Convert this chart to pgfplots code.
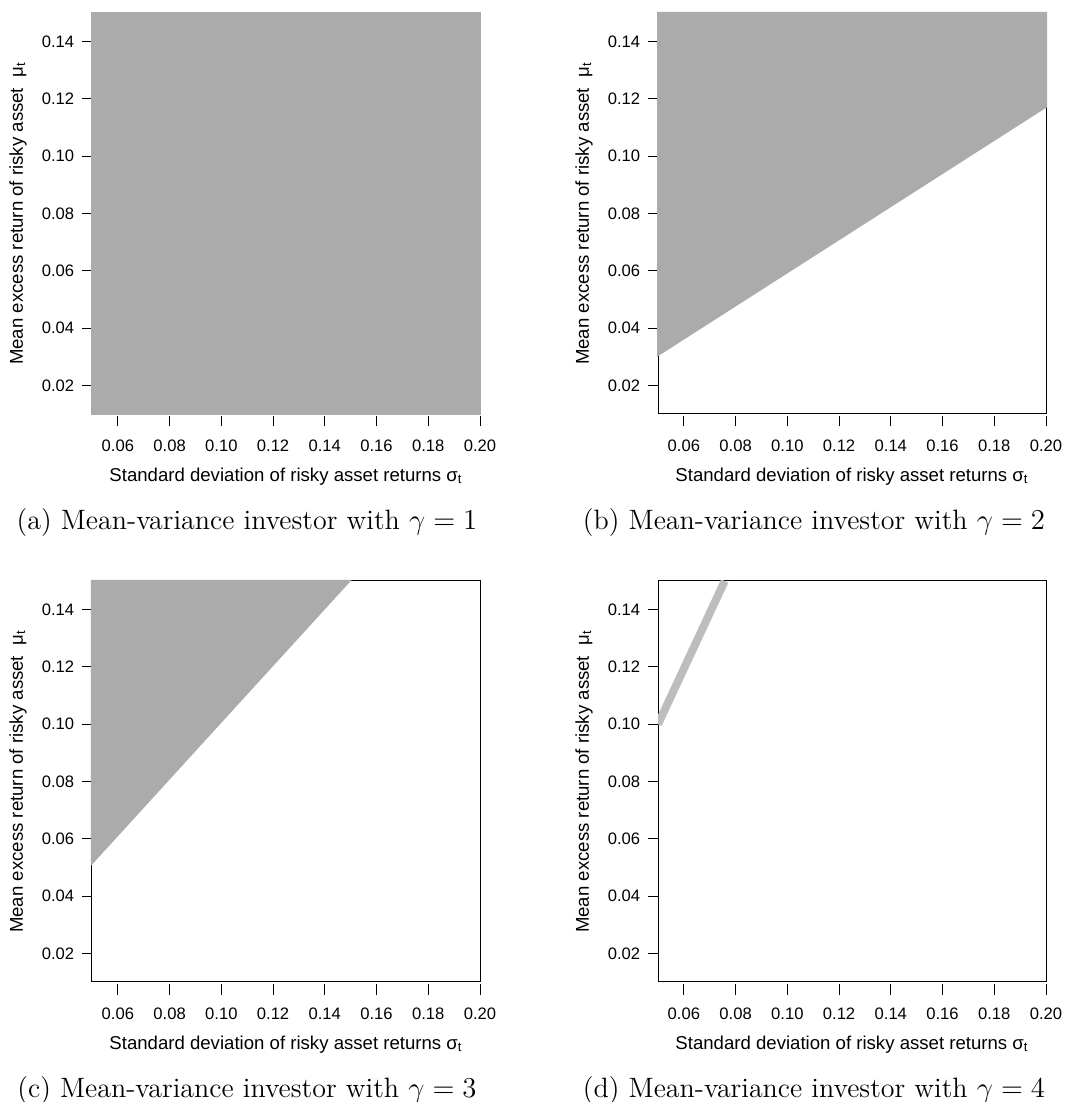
\documentclass[border=0pt]{standalone}
\usepackage{fontspec}
\setsansfont{Liberation Sans}
\usepackage{pgfplots}
\pgfplotsset{compat=1.18}
\definecolor{cgray}{HTML}{ABABAB}
\definecolor{bgray}{HTML}{BDBDBD}
\pgfplotsset{panel/.style={
  scale only axis, width=194pt, height=200.5pt,
  xmin=0.05, xmax=0.20, ymin=0.01, ymax=0.15,
  xtick={0.06,0.08,0.10,0.12,0.14,0.16,0.18,0.20},
  ytick={0.02,0.04,0.06,0.08,0.10,0.12,0.14},
  scaled ticks=false,
  tick pos=left,
  tick align=outside, major tick length=5pt,
  axis line style={line width=0.5pt},
  tick style={black, line width=0.5pt},
  xtick style={yshift=-1.25pt},
  xticklabel style={yshift=-4.6pt},
  yticklabel style={xshift=-0.4pt},
  ticklabel style={font=\sffamily\fontsize{8.3}{9.5}\selectfont},
  /pgf/number format/.cd, fixed, fixed zerofill, precision=2, assume math mode=true, /pgfplots/.cd,
  xlabel={Standard deviation of risky asset returns σ\textsubscript{t}},
  ylabel={Mean excess return of risky asset~~μ\textsubscript{t}},
  label style={font=\sffamily\fontsize{9.3}{11}\selectfont},
  xlabel style={at={(axis description cs:0.5,0)}, anchor=north, yshift=-23.6pt},
  ylabel style={at={(axis description cs:-0.1907,0.5)}, anchor=center},
  anchor=south west,
  no markers,
}}
\begin{document}
\begin{tikzpicture}
\useasboundingbox (0,0) rectangle (540pt,551pt);
% (a)
\begin{axis}[panel, at={(46pt,344pt)}, clip=false]
\addplot[fill=cgray, draw=cgray, line width=1pt] coordinates {(0.05,0.01) (0.20,0.01) (0.20,0.15) (0.05,0.15)} -- cycle;
\end{axis}
% (b)
\begin{axis}[panel, at={(329pt,344pt)}, clip=false]
\addplot[fill=cgray, draw=cgray, line width=1pt] coordinates {(0.05,0.15) (0.05,0.0306) (0.20,0.1173) (0.20,0.15)} -- cycle;
\end{axis}
% (c)
\begin{axis}[panel, at={(46pt,60pt)}, clip=false]
\addplot[fill=cgray, draw=cgray, line width=1pt] coordinates {(0.05,0.15) (0.05,0.0515) (0.1495,0.15)} -- cycle;
\end{axis}
% (d)
\begin{axis}[panel, at={(329pt,60pt)}]
\addplot[bgray, line width=4pt] coordinates {(0.05,0.100) (0.0758,0.15)};
\end{axis}
\begin{scope}[every node/.style={anchor=base, font=\fontsize{14}{16}\selectfont}]
\node at (123.5pt,286pt) {(a) Mean-variance investor with $\gamma = 1$};
\node at (407pt,286pt) {(b) Mean-variance investor with $\gamma = 2$};
\node at (123.5pt,2pt) {(c) Mean-variance investor with $\gamma = 3$};
\node at (407pt,2pt) {(d) Mean-variance investor with $\gamma = 4$};
\end{scope}
\end{tikzpicture}
\end{document}
